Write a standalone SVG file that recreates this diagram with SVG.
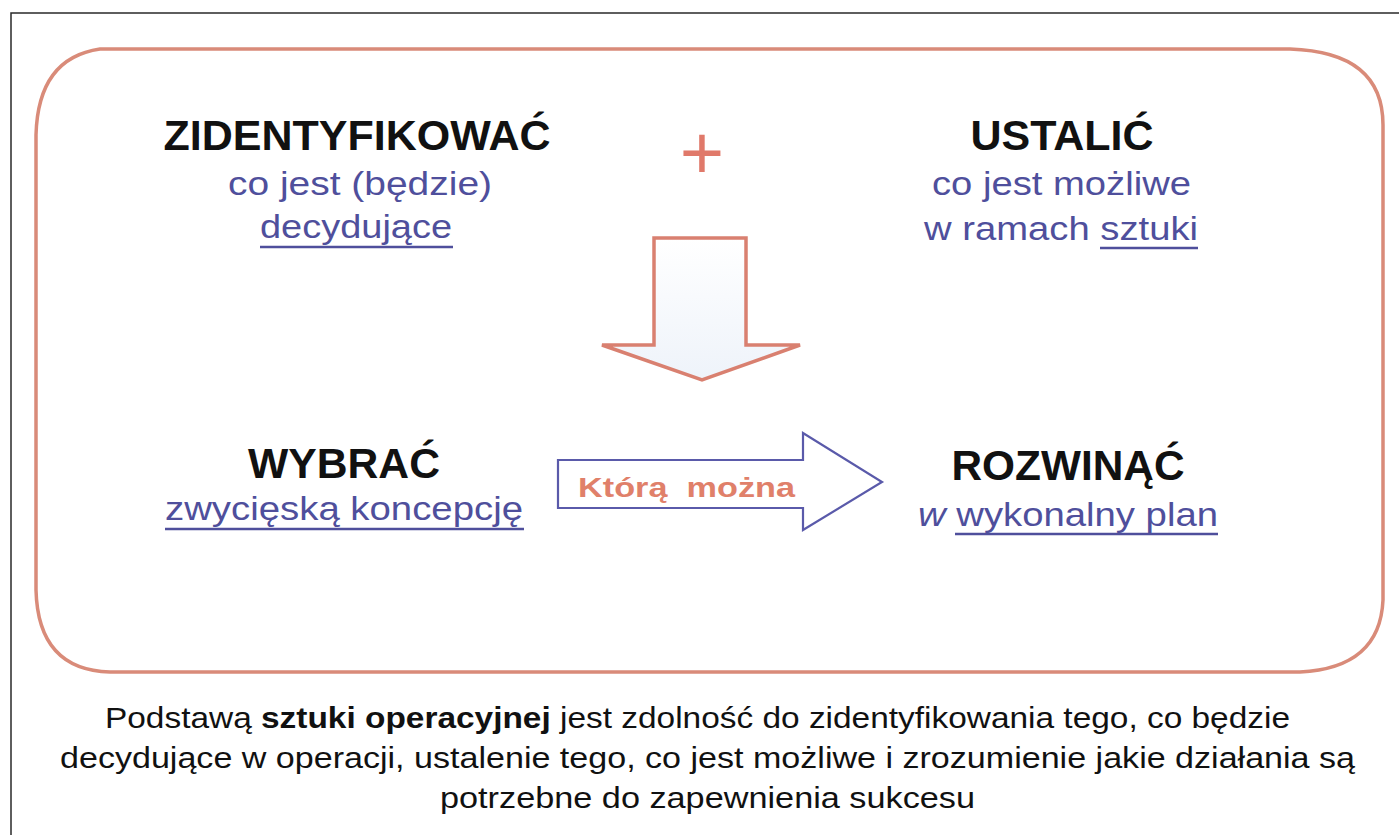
<svg xmlns="http://www.w3.org/2000/svg" width="1399" height="835" viewBox="0 0 1399 835">
  <defs>
    <style>
      .head { font-family: "Liberation Sans", Arial, sans-serif; font-weight: bold; font-size: 42px; fill: #111; text-anchor: middle; }
      .sub { font-family: "Liberation Sans", Arial, sans-serif; font-size: 33px; fill: #4f4f9c; }
      .ul { stroke: #4f4f9c; stroke-width: 2.5; }
      .body { font-family: "Liberation Sans", Arial, sans-serif; font-size: 30px; fill: #111; }
      .frame { fill: none; stroke: #2a2a2a; stroke-width: 1.5; }
    </style>
    <linearGradient id="arrowFill" x1="0" y1="0" x2="0" y2="1">
      <stop offset="0" stop-color="#ffffff"/>
      <stop offset="1" stop-color="#eef3fa"/>
    </linearGradient>
  </defs>

  <rect width="1399" height="835" fill="#ffffff"/>

  <!-- page frame -->
  <path class="frame" d="M11,835 V13 H1399"/>

  <!-- rounded panel -->
  <path d="M100,49 H1290 Q1383,52 1383,125 V600 Q1380,668 1300,672 H110 Q38,670 36,590 V135 Q38,58 100,49 Z"
        fill="none" stroke="#d98b79" stroke-width="3.5"/>

  <g id="identify">
    <text class="head" x="357" y="150" textLength="387" lengthAdjust="spacingAndGlyphs">ZIDENTYFIKOWAĆ</text>
    <text class="sub" x="228" y="195" textLength="264" lengthAdjust="spacingAndGlyphs">co jest (będzie)</text>
    <text class="sub" x="260" y="238" textLength="192" lengthAdjust="spacingAndGlyphs">decydujące</text>
    <line class="ul" x1="260" y1="247" x2="453" y2="247"/>
  </g>

  <g id="plus">
    <text x="702" y="179" font-family="Liberation Sans, Arial, sans-serif" font-size="76" fill="#e0796a" text-anchor="middle">+</text>
  </g>

  <g id="establish">
    <text class="head" x="1062" y="150" textLength="183" lengthAdjust="spacingAndGlyphs">USTALIĆ</text>
    <text class="sub" x="932" y="195" textLength="259" lengthAdjust="spacingAndGlyphs">co jest możliwe</text>
    <text class="sub" x="924" y="240" textLength="274" lengthAdjust="spacingAndGlyphs">w ramach sztuki</text>
    <line class="ul" x1="1100" y1="248" x2="1198" y2="248"/>
  </g>

  <g id="choose">
    <text class="head" x="344" y="478" textLength="192" lengthAdjust="spacingAndGlyphs">WYBRAĆ</text>
    <text class="sub" x="165" y="520" textLength="358" lengthAdjust="spacingAndGlyphs">zwycięską koncepcję</text>
    <line class="ul" x1="165" y1="529" x2="524" y2="529"/>
  </g>

  <g id="develop">
    <text class="head" x="1068" y="480" textLength="233" lengthAdjust="spacingAndGlyphs">ROZWINĄĆ</text>
    <text class="sub" x="918" y="526" textLength="300" lengthAdjust="spacingAndGlyphs"><tspan font-style="italic">w</tspan> wykonalny plan</text>
    <line class="ul" x1="955" y1="534" x2="1218" y2="534"/>
  </g>

  <!-- connectors -->
  <g id="connectors">
    <path d="M654,238 H746 V345 H800 L702,380 L602,345 H654 Z"
          fill="url(#arrowFill)" stroke="#d98070" stroke-width="3.5" stroke-linejoin="miter"/>
    <path d="M558,460 H803 V433 L882,482 L803,530 V508 H558 Z"
          fill="#ffffff" stroke="#5a5aaa" stroke-width="2.2"/>
    <text x="578" y="497" font-family="Liberation Sans, Arial, sans-serif" font-weight="bold" font-size="27" fill="#e0806a" textLength="217" lengthAdjust="spacingAndGlyphs" xml:space="preserve">Którą  można</text>
  </g>

  <g id="caption">
    <text class="body" x="105" y="728" textLength="1185" lengthAdjust="spacingAndGlyphs">Podstawą <tspan font-weight="bold">sztuki operacyjnej</tspan> jest zdolność do zidentyfikowania tego, co będzie</text>
    <text class="body" x="60" y="768" textLength="1295" lengthAdjust="spacingAndGlyphs">decydujące w operacji, ustalenie tego, co jest możliwe i zrozumienie jakie działania są</text>
    <text class="body" x="440" y="808" textLength="535" lengthAdjust="spacingAndGlyphs">potrzebne do zapewnienia sukcesu</text>
  </g>
</svg>
